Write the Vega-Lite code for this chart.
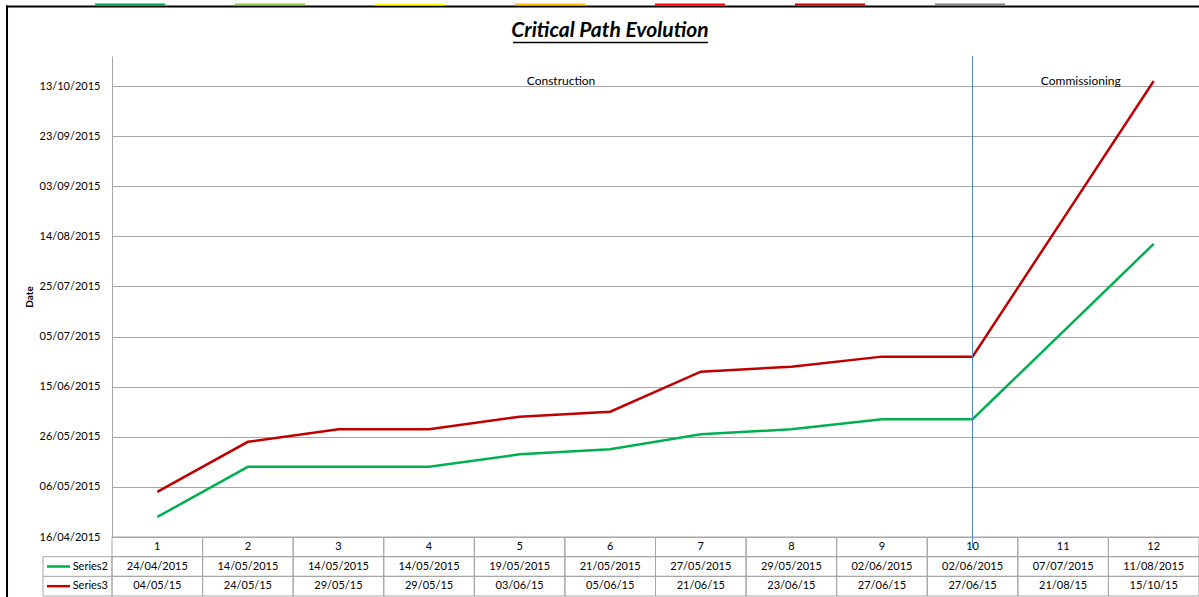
{
  "$schema": "https://vega.github.io/schema/vega-lite/v6.json",
  "width": 1087,
  "height": 481,
  "autosize": {"type": "none"},
  "padding": {"left": 112, "top": 56, "right": 0, "bottom": 60},
  "background": "white",
  "config": {"font": "Lato", "view": {"stroke": null}, "text": {"font": "Lato", "color": "#000000"}},
  "title": {"text": "Critical Path Evolution", "font": "Lato", "fontSize": 21, "fontWeight": "bold", "fontStyle": "italic", "color": "#000000", "anchor": "middle", "frame": "group", "dx": -45.5, "dy": 71.3, "offset": 17, "baseline": "alphabetic"},
  "datasets": {
    "pts": [
      {"step": 1, "series": "Series2", "date": "2015-04-24"},
      {"step": 2, "series": "Series2", "date": "2015-05-14"},
      {"step": 3, "series": "Series2", "date": "2015-05-14"},
      {"step": 4, "series": "Series2", "date": "2015-05-14"},
      {"step": 5, "series": "Series2", "date": "2015-05-19"},
      {"step": 6, "series": "Series2", "date": "2015-05-21"},
      {"step": 7, "series": "Series2", "date": "2015-05-27"},
      {"step": 8, "series": "Series2", "date": "2015-05-29"},
      {"step": 9, "series": "Series2", "date": "2015-06-02"},
      {"step": 10, "series": "Series2", "date": "2015-06-02"},
      {"step": 11, "series": "Series2", "date": "2015-07-07"},
      {"step": 12, "series": "Series2", "date": "2015-08-11"},
      {"step": 1, "series": "Series3", "date": "2015-05-04"},
      {"step": 2, "series": "Series3", "date": "2015-05-24"},
      {"step": 3, "series": "Series3", "date": "2015-05-29"},
      {"step": 4, "series": "Series3", "date": "2015-05-29"},
      {"step": 5, "series": "Series3", "date": "2015-06-03"},
      {"step": 6, "series": "Series3", "date": "2015-06-05"},
      {"step": 7, "series": "Series3", "date": "2015-06-21"},
      {"step": 8, "series": "Series3", "date": "2015-06-23"},
      {"step": 9, "series": "Series3", "date": "2015-06-27"},
      {"step": 10, "series": "Series3", "date": "2015-06-27"},
      {"step": 11, "series": "Series3", "date": "2015-08-21"},
      {"step": 12, "series": "Series3", "date": "2015-10-15"}
    ],
    "notes": [
      {"label": "Construction", "pos": 5.457, "date": "2015-10-13"},
      {"label": "Commissioning", "pos": 11.195, "date": "2015-10-13"}
    ],
    "legend": [
      {"series": "Series2"},
      {"series": "Series3"}
    ],
    "swatches": [
      {"name": "Green", "from": 0.312, "to": 1.085},
      {"name": "Light green", "from": 1.858, "to": 2.631},
      {"name": "Yellow", "from": 3.403, "to": 4.176},
      {"name": "Orange", "from": 4.949, "to": 5.722},
      {"name": "Red", "from": 6.494, "to": 7.267},
      {"name": "Dark red", "from": 8.040, "to": 8.813},
      {"name": "Grey", "from": 9.586, "to": 10.358}
    ],
    "one": [{"k": 1}]
  },
  "resolve": {"scale": {"y": "independent", "color": "independent"}},
  "layer": [
    {
      "layer": [
        {
          "data": {"name": "pts"},
          "mark": {"type": "line", "strokeWidth": 2.5},
          "encoding": {
            "x": {"field": "step", "type": "quantitative", "scale": {"domain": [0.5, 12.5], "nice": false, "zero": false}, "axis": null},
            "y": {
              "field": "date", "type": "temporal", "title": "Date",
              "scale": {"type": "utc", "nice": false, "domain": [{"year": 2015, "month": 4, "date": 16, "utc": true}, {"year": 2015, "month": 10, "date": 25, "utc": true}]},
              "axis": {
                "values": [
                  {"year": 2015, "month": 4, "date": 16, "utc": true},
                  {"year": 2015, "month": 5, "date": 6, "utc": true},
                  {"year": 2015, "month": 5, "date": 26, "utc": true},
                  {"year": 2015, "month": 6, "date": 15, "utc": true},
                  {"year": 2015, "month": 7, "date": 5, "utc": true},
                  {"year": 2015, "month": 7, "date": 25, "utc": true},
                  {"year": 2015, "month": 8, "date": 14, "utc": true},
                  {"year": 2015, "month": 9, "date": 3, "utc": true},
                  {"year": 2015, "month": 9, "date": 23, "utc": true},
                  {"year": 2015, "month": 10, "date": 13, "utc": true}
                ],
                "format": "%d/%m/%Y", "grid": true, "gridColor": "#a6a6a6", "gridWidth": 1,
                "domainColor": "#a6a6a6", "ticks": false, "labelPadding": 12, "labelFontSize": 11,
                "labelColor": "#000000", "labelFont": "Lato", "titleFont": "Lato", "titleFontSize": 10,
                "titleFontWeight": "bold", "titleColor": "#000000", "titlePadding": 5
              }
            },
            "color": {"field": "series", "type": "nominal", "scale": {"domain": ["Series2", "Series3"], "range": ["#00b050", "#c00000"]}, "legend": null},
            "order": {"field": "step", "type": "quantitative"}
          }
        },
        {
          "data": {"name": "notes"},
          "mark": {"type": "text", "fontSize": 12, "baseline": "alphabetic", "dy": -1},
          "encoding": {
            "x": {"field": "pos", "type": "quantitative", "scale": {"domain": [0.5, 12.5], "nice": false, "zero": false}},
            "y": {"field": "date", "type": "temporal"},
            "text": {"field": "label"}
          }
        }
      ]
    },
    {
      "layer": [
        {
          "data": {"name": "pts"},
          "transform": [{"filter": "datum.series === 'Series2'"}],
          "mark": {"type": "rect", "filled": false, "stroke": "#a6a6a6", "strokeWidth": 1, "width": 90.583, "height": 19.67},
          "encoding": {
            "x": {"field": "step", "type": "quantitative", "scale": {"domain": [0.5, 12.5], "nice": false, "zero": false}},
            "y": {"datum": -0.5, "type": "quantitative", "scale": {"domain": [0, 24.45], "nice": false, "zero": false}, "axis": null}
          }
        },
        {
          "data": {"name": "pts"},
          "transform": [{"filter": "datum.series === 'Series2'"}],
          "mark": {"type": "text", "fontSize": 11},
          "encoding": {
            "x": {"field": "step", "type": "quantitative", "scale": {"domain": [0.5, 12.5], "nice": false, "zero": false}},
            "y": {"datum": -0.5, "type": "quantitative", "scale": {"domain": [0, 24.45], "nice": false, "zero": false}, "axis": null},
            "text": {"field": "step", "type": "quantitative"}
          }
        },
        {
          "data": {"name": "pts"},
          "transform": [{"filter": "datum.series === 'Series2'"}],
          "mark": {"type": "rect", "filled": false, "stroke": "#a6a6a6", "strokeWidth": 1, "width": 90.583, "height": 19.67},
          "encoding": {
            "x": {"field": "step", "type": "quantitative", "scale": {"domain": [0.5, 12.5], "nice": false, "zero": false}},
            "y": {"datum": -1.5, "type": "quantitative", "scale": {"domain": [0, 24.45], "nice": false, "zero": false}, "axis": null}
          }
        },
        {
          "data": {"name": "pts"},
          "transform": [{"filter": "datum.series === 'Series2'"}],
          "mark": {"type": "text", "fontSize": 11},
          "encoding": {
            "x": {"field": "step", "type": "quantitative", "scale": {"domain": [0.5, 12.5], "nice": false, "zero": false}},
            "y": {"datum": -1.5, "type": "quantitative", "scale": {"domain": [0, 24.45], "nice": false, "zero": false}, "axis": null},
            "text": {"field": "date", "type": "temporal", "timeUnit": "utcyearmonthdate", "format": "%d/%m/%Y"}
          }
        },
        {
          "data": {"name": "pts"},
          "transform": [{"filter": "datum.series === 'Series3'"}],
          "mark": {"type": "rect", "filled": false, "stroke": "#a6a6a6", "strokeWidth": 1, "width": 90.583, "height": 19.67},
          "encoding": {
            "x": {"field": "step", "type": "quantitative", "scale": {"domain": [0.5, 12.5], "nice": false, "zero": false}},
            "y": {"datum": -2.5, "type": "quantitative", "scale": {"domain": [0, 24.45], "nice": false, "zero": false}, "axis": null}
          }
        },
        {
          "data": {"name": "pts"},
          "transform": [{"filter": "datum.series === 'Series3'"}],
          "mark": {"type": "text", "fontSize": 11},
          "encoding": {
            "x": {"field": "step", "type": "quantitative", "scale": {"domain": [0.5, 12.5], "nice": false, "zero": false}},
            "y": {"datum": -2.5, "type": "quantitative", "scale": {"domain": [0, 24.45], "nice": false, "zero": false}, "axis": null},
            "text": {"field": "date", "type": "temporal", "timeUnit": "utcyearmonthdate", "format": "%d/%m/%y"}
          }
        },
        {
          "data": {"name": "one"},
          "mark": {"type": "rect", "filled": false, "stroke": "#a6a6a6", "strokeWidth": 1},
          "encoding": {
            "x": {"datum": -0.2617, "type": "quantitative", "scale": {"domain": [0.5, 12.5], "nice": false, "zero": false}},
            "x2": {"datum": 0.5},
            "y": {"datum": -1, "type": "quantitative", "scale": {"domain": [0, 24.45], "nice": false, "zero": false}, "axis": null},
            "y2": {"datum": -3}
          }
        },
        {
          "data": {"name": "one"},
          "mark": {"type": "rule", "stroke": "#a6a6a6", "strokeWidth": 1},
          "encoding": {
            "x": {"datum": -0.2617, "type": "quantitative", "scale": {"domain": [0.5, 12.5], "nice": false, "zero": false}},
            "x2": {"datum": 0.5},
            "y": {"datum": -2, "type": "quantitative", "scale": {"domain": [0, 24.45], "nice": false, "zero": false}, "axis": null}
          }
        },
        {
          "data": {"name": "one"},
          "mark": {"type": "rule", "stroke": "#00b050", "strokeWidth": 2.5},
          "encoding": {
            "x": {"datum": -0.2176, "type": "quantitative", "scale": {"domain": [0.5, 12.5], "nice": false, "zero": false}},
            "x2": {"datum": 0.0363},
            "y": {"datum": -1.5, "type": "quantitative", "scale": {"domain": [0, 24.45], "nice": false, "zero": false}, "axis": null}
          }
        },
        {
          "data": {"name": "one"},
          "mark": {"type": "rule", "stroke": "#c00000", "strokeWidth": 2.5},
          "encoding": {
            "x": {"datum": -0.2176, "type": "quantitative", "scale": {"domain": [0.5, 12.5], "nice": false, "zero": false}},
            "x2": {"datum": 0.0363},
            "y": {"datum": -2.5, "type": "quantitative", "scale": {"domain": [0, 24.45], "nice": false, "zero": false}, "axis": null}
          }
        },
        {
          "data": {"name": "legend"},
          "transform": [{"filter": "datum.series === 'Series2'"}],
          "mark": {"type": "text", "fontSize": 11, "align": "right"},
          "encoding": {
            "x": {"datum": 0.4558, "type": "quantitative", "scale": {"domain": [0.5, 12.5], "nice": false, "zero": false}},
            "y": {"datum": -1.5, "type": "quantitative", "scale": {"domain": [0, 24.45], "nice": false, "zero": false}, "axis": null},
            "text": {"field": "series"}
          }
        },
        {
          "data": {"name": "legend"},
          "transform": [{"filter": "datum.series === 'Series3'"}],
          "mark": {"type": "text", "fontSize": 11, "align": "right"},
          "encoding": {
            "x": {"datum": 0.4558, "type": "quantitative", "scale": {"domain": [0.5, 12.5], "nice": false, "zero": false}},
            "y": {"datum": -2.5, "type": "quantitative", "scale": {"domain": [0, 24.45], "nice": false, "zero": false}, "axis": null},
            "text": {"field": "series"}
          }
        },
        {
          "data": {"name": "one"},
          "mark": {"type": "rule", "stroke": "#4f81bd", "strokeWidth": 1},
          "encoding": {
            "x": {"datum": 10, "type": "quantitative", "scale": {"domain": [0.5, 12.5], "nice": false, "zero": false}},
            "y": {"datum": -0.56, "type": "quantitative", "scale": {"domain": [0, 24.45], "nice": false, "zero": false}, "axis": null},
            "y2": {"datum": 24.45}
          }
        },
        {
          "data": {"name": "one"},
          "mark": {"type": "rule", "stroke": "#000000", "strokeWidth": 2},
          "encoding": {
            "x": {"datum": -0.659, "type": "quantitative", "scale": {"domain": [0.5, 12.5], "nice": false, "zero": false}},
            "y": {"datum": -3.3, "type": "quantitative", "scale": {"domain": [0, 24.45], "nice": false, "zero": false}, "axis": null},
            "y2": {"datum": 27.02}
          }
        },
        {
          "data": {"name": "one"},
          "mark": {"type": "rule", "stroke": "#000000", "strokeWidth": 2},
          "encoding": {
            "x": {"datum": -0.67, "type": "quantitative", "scale": {"domain": [0.5, 12.5], "nice": false, "zero": false}},
            "x2": {"datum": 12.6},
            "y": {"datum": 26.97, "type": "quantitative", "scale": {"domain": [0, 24.45], "nice": false, "zero": false}, "axis": null}
          }
        },
        {
          "data": {"name": "swatches"},
          "mark": {"type": "rule", "strokeWidth": 2},
          "encoding": {
            "x": {"field": "from", "type": "quantitative", "scale": {"domain": [0.5, 12.5], "nice": false, "zero": false}},
            "x2": {"field": "to"},
            "y": {"datum": 27.07, "type": "quantitative", "scale": {"domain": [0, 24.45], "nice": false, "zero": false}, "axis": null},
            "color": {"field": "name", "type": "nominal", "legend": null, "scale": {"domain": ["Green", "Light green", "Yellow", "Orange", "Red", "Dark red", "Grey"], "range": ["#00a651", "#8dc63f", "#ffff00", "#ffc000", "#ff0000", "#c00000", "#7f7f7f"]}}
          }
        },
        {
          "data": {"name": "one"},
          "mark": {"type": "rule", "stroke": "#000000", "strokeWidth": 1.5},
          "encoding": {
            "x": {"datum": 4.927, "type": "quantitative", "scale": {"domain": [0.5, 12.5], "nice": false, "zero": false}},
            "x2": {"datum": 7.08},
            "y": {"datum": 25.14, "type": "quantitative", "scale": {"domain": [0, 24.45], "nice": false, "zero": false}, "axis": null}
          }
        }
      ]
    }
  ]
}
